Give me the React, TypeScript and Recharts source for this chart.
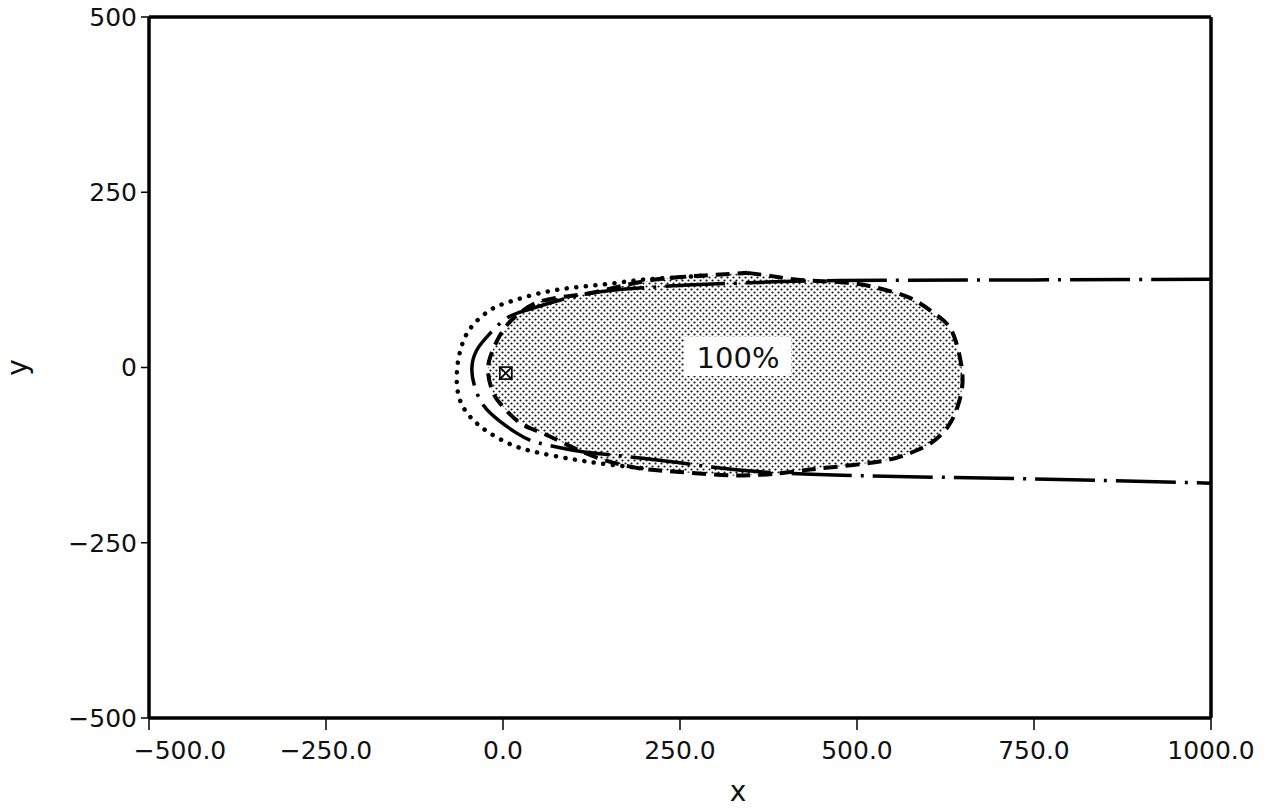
import { ComposedChart, Scatter, XAxis, YAxis, ReferenceLine } from "recharts"

// axis ticks
const xTicks = [-500, -250, 0, 250, 500, 750, 1000]
const yTicks = [-500, -250, 0, 250, 500]

// outer dotted contour (open at the right, merges into the dashed one)
const dottedCurve: [number, number][] = [
  [279, 131], [240, 128], [194, 125], [147, 119], [99, 114], [52, 106],
  [10, 94], [-18, 82], [-42, 61], [-57, 35], [-65, -4], [-61, -46],
  [-42, -75], [-18, -94], [14, -111], [52, -122], [99, -131], [147, -138],
  [208, -145],
]

// dash-dot plume edge, running off to the right border
const dashDotCurve: [number, number][] = [
  [1000, 126], [750, 125], [476, 124], [350, 121], [269, 118], [218, 115],
  [161, 111], [113, 104], [66, 92], [34, 82], [6, 71], [-18, 49],
  [-37, 25], [-44, -4], [-37, -36], [-18, -65], [20, -94], [52, -108],
  [99, -118], [137, -123], [250, -136], [401, -151], [700, -158], [1000, -165],
]

// closed dashed contour, shaded inside
const dashedCurve: [number, number][] = [
  [345, 135], [382, 130], [420, 125], [486, 121], [523, 115], [557, 106],
  [585, 94], [608, 78], [628, 61], [639, 39], [646, 11], [649, -22],
  [642, -56], [628, -85], [604, -108], [575, -122], [543, -132], [495, -139],
  [448, -144], [406, -149], [335, -154], [250, -149], [194, -144], [137, -130],
  [90, -110], [52, -92], [24, -79], [0, -56], [-14, -36], [-21, -8],
  [-18, 15], [-8, 39], [6, 61], [24, 78], [52, 94], [95, 102],
  [137, 109], [194, 122], [250, 129], [297, 132], [345, 135],
]

const sourcePoint: [number, number][] = [[4, -8]]
const labelPoint: [number, number][] = [[332, 15]]
const labelText = "100%"

const toPts = (arr: [number, number][]) => arr.map(([x, y]) => ({ x, y }))
const minus = (s: string) => s.replace("-", "\u2212")

const font = "'DejaVu Sans', sans-serif"

const hidden = () => <g />

const SourceMarker = (props: any) => {
  const { cx, cy } = props
  return (
    <g stroke="#000" strokeWidth={1.6} fill="none">
      <rect x={cx - 6} y={cy - 6} width={12} height={12} />
      <line x1={cx - 6} y1={cy - 6} x2={cx + 6} y2={cy + 6} />
      <line x1={cx + 6} y1={cy - 6} x2={cx - 6} y2={cy + 6} />
    </g>
  )
}

const BoxLabel = (props: any) => {
  const { cx, cy } = props
  return (
    <g>
      <rect x={cx - 54} y={cy - 20} width={107} height={39} fill="#fff" />
      <text x={cx} y={cy + 11} textAnchor="middle" fontSize={29} fontFamily={font} fill="#111">
        {labelText}
      </text>
    </g>
  )
}

// first x label sits to the right of its tick, clear of the y labels
const XTick = (props: any) => {
  const { x, y, payload, index } = props
  const shift = index === 0 ? 31 : 0
  return (
    <text x={x + shift} y={y} dy="0.85em" textAnchor="middle" fontSize={25} fontFamily={font} fill="#111">
      {minus(Number(payload.value).toFixed(1))}
    </text>
  )
}

function App() {
  return (
    <div style={{ position: "absolute", left: 0, top: 0, background: "#fff" }}>
      <ComposedChart
        width={1274}
        height={811}
        margin={{ top: 17, right: 63, left: 0, bottom: 0 }}
      >
        <defs>
          <pattern id="dotFill" width={6} height={6} patternUnits="userSpaceOnUse">
            <circle cx={1.5} cy={1.5} r={1.1} fill="#111" />
            <circle cx={4.5} cy={4.5} r={1.1} fill="#111" />
          </pattern>
        </defs>

        <XAxis
          type="number"
          dataKey="x"
          domain={[-500, 1000]}
          ticks={xTicks}
          allowDataOverflow
          height={93}
          tickSize={12}
          tickMargin={8}
          axisLine={{ stroke: "#000", strokeWidth: 3.5 }}
          tickLine={{ stroke: "#000", strokeWidth: 1.5 }}
          tick={<XTick />}
          label={{ value: "x", position: "insideBottom", dx: 58, offset: 10, fontSize: 28, fontFamily: font, fill: "#111" }}
        />
        <YAxis
          type="number"
          dataKey="y"
          domain={[-500, 500]}
          ticks={yTicks}
          allowDataOverflow
          width={149}
          tickSize={8}
          tickMargin={4}
          tickFormatter={(v: number) => minus(String(v))}
          axisLine={{ stroke: "#000", strokeWidth: 3.5 }}
          tickLine={{ stroke: "#000", strokeWidth: 1.5 }}
          tick={{ fill: "#111", fontSize: 25, fontFamily: font }}
          label={{ value: "y", angle: -90, position: "center", dx: -57, fontSize: 28, fontFamily: font, fill: "#111" }}
        />

        <ReferenceLine x={1000} stroke="#000" strokeWidth={3.5} />
        <ReferenceLine y={500} stroke="#000" strokeWidth={3.5} />

        <Scatter
          data={toPts(dashedCurve)}
          isAnimationActive={false}
          shape={hidden}
          lineType="joint"
          lineJointType="natural"
          line={{ stroke: "#000", strokeWidth: 4, strokeDasharray: "14 8", fill: "url(#dotFill)" }}
        />
        <Scatter
          data={toPts(dottedCurve)}
          isAnimationActive={false}
          shape={hidden}
          lineType="joint"
          lineJointType="natural"
          line={{ stroke: "#000", strokeWidth: 4.5, strokeDasharray: "0.1 9.5", strokeLinecap: "round", fill: "none" }}
        />
        <Scatter
          data={toPts(dashDotCurve)}
          isAnimationActive={false}
          shape={hidden}
          lineType="joint"
          lineJointType="natural"
          line={{ stroke: "#000", strokeWidth: 3.5, strokeDasharray: "60 9 3 9", fill: "none" }}
        />
        <Scatter data={toPts(sourcePoint)} isAnimationActive={false} shape={SourceMarker} />
        <Scatter data={toPts(labelPoint)} isAnimationActive={false} shape={BoxLabel} />
      </ComposedChart>
    </div>
  )
}

export default App
